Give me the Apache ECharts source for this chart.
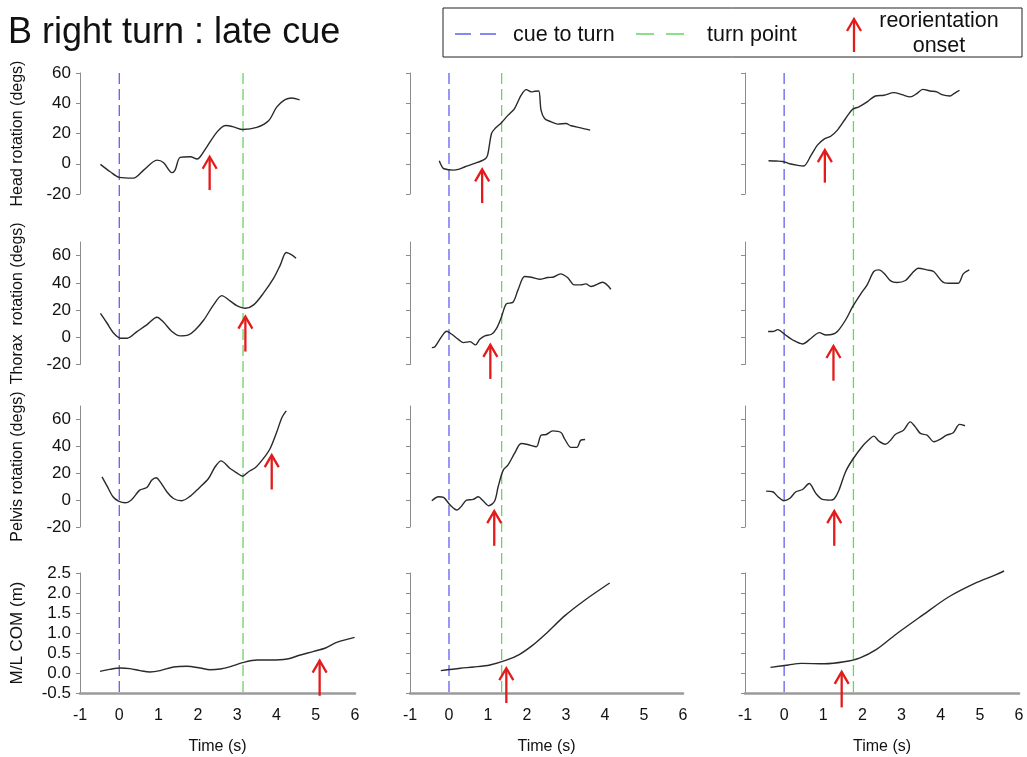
<!DOCTYPE html>
<html><head><meta charset="utf-8">
<script src="https://cdn.jsdelivr.net/npm/echarts@6/dist/echarts.min.js"></script>
<style>html,body{margin:0;padding:0;background:#fff}#c{width:1027px;height:757px}</style>
</head><body><div id="c"></div>
<script>
// ---------------- data ----------------
const titleText = 'B right turn : late cue';
const rowNames = ['Head rotation (degs)', 'Thorax  rotation (degs)', 'Pelvis rotation (degs)', 'M/L COM (m)'];
const xTickValues = [-1, 0, 1, 2, 3, 4, 5, 6];
const rotTicks = [-20, 0, 20, 40, 60];
const comTicks = [-0.5, 0, 0.5, 1, 1.5, 2, 2.5];
const cueTimes = [0, 0, 0];
const turnTimes = [3.15, 1.35, 1.77];

const head1_t = [-0.48,-0.23,0,0.36,0.62,0.96,1.13,1.34,1.42,1.55,1.81,1.98,2.06,2.23,2.49,2.70,2.91,3.14,3.50,3.80,4.01,4.22,4.39,4.59];
const head1_v = [-0.4,-5.3,-9,-9.5,-4.2,2.4,0.7,-5.9,-4.2,4.2,4.6,3.1,4.6,11.2,21.1,25.3,24.4,22.6,24,28.4,37.6,42.4,43.5,42.2];
const head2_t = [-0.25,-0.19,-0.13,0.11,0.24,0.41,0.66,0.92,0.99,1.09,1.18,1.34,1.51,1.68,1.85,1.98,2.11,2.2,2.30,2.36,2.45,2.62,2.79,3.00,3.13,3.38,3.62];
const head2_v = [2.0,-1.5,-3.3,-4.2,-3.7,-2.0,0.2,3.1,5.7,20,23.3,27,32,36.5,45.3,49,47.5,47.9,48.1,35.4,29.9,27.7,26.2,26.6,25.1,23.7,22.2];
const head3_t = [-0.40,-0.20,-0.03,0.14,0.35,0.50,0.69,0.85,1.02,1.19,1.36,1.57,1.75,1.91,2.12,2.33,2.55,2.80,3.01,3.22,3.39,3.54,3.73,3.90,4.03,4.24,4.34,4.48];
const head3_v = [2.0,1.8,1.5,0,-1.1,-1.5,5.7,12.3,16.3,18.2,22.2,29.9,36,37.6,40.9,44.8,45.3,47,45.7,44.2,46.4,49.2,48.1,47.5,45.7,44.8,46.4,48.6];

const thor1_t = [-0.48,-0.31,-0.14,0.03,0.2,0.45,0.70,0.96,1.13,1.34,1.55,1.76,1.93,2.15,2.40,2.61,2.82,2.99,3.21,3.42,3.67,3.93,4.10,4.25,4.39,4.50];
const thor1_v = [17.6,10.3,2.9,-0.7,-0.7,4.2,9.1,14.7,11,4.2,1,1.7,5.4,12.7,23.8,30.6,26.7,23.3,21.3,23.8,32.4,43.4,53.2,62.3,60.5,58.1];
const thor2_t = [-0.44,-0.36,-0.19,-0.06,0.07,0.24,0.37,0.54,0.68,0.79,0.92,1.09,1.22,1.34,1.47,1.64,1.77,1.94,2.11,2.32,2.53,2.66,2.86,3.04,3.21,3.38,3.51,3.64,3.94,4.15];
const thor2_v = [-7.6,-6.9,0.5,4.4,2.2,-1.5,-3.9,-3.2,-5.6,-1.5,1,2.2,6.6,14.5,24.5,25.7,34.8,44.6,44.1,42.6,43.9,44.1,46.6,43.9,38.5,38.5,39.2,37.3,40.4,35.3];
const thor3_t = [-0.41,-0.29,-0.16,0.01,0.22,0.47,0.69,0.90,1.07,1.24,1.36,1.57,1.75,1.95,2.12,2.29,2.42,2.55,2.72,2.88,3.10,3.27,3.43,3.65,3.82,4.07,4.28,4.45,4.58,4.73];
const thor3_v = [4.2,4.2,5.6,2.2,-2.0,-4.9,-0.7,3.4,1.7,2.2,4.2,12.7,22.5,31.6,38.5,48.3,49.5,47.1,41.4,40.2,41.7,47.1,50.7,49.5,48.3,40.4,39.7,39.7,46.8,49.5];

const pel1_t = [-0.44,-0.31,-0.16,-0.02,0.15,0.32,0.52,0.70,0.83,0.94,1.04,1.21,1.38,1.59,1.81,2.02,2.27,2.44,2.59,2.82,2.99,3.14,3.29,3.46,3.67,3.84,4.01,4.14,4.25];
const pel1_v = [17.3,10.4,2.5,-0.7,-2.0,0.5,7.4,9.4,14.9,16.6,13.6,6.2,1.2,-0.5,3.0,8.7,16.1,24.8,29.2,23.5,20.3,17.8,21.1,24.0,31.0,38.4,50.8,61.5,66.4];
const pel2_t = [-0.44,-0.27,-0.14,0.03,0.20,0.32,0.45,0.62,0.75,0.88,1.02,1.17,1.26,1.39,1.51,1.68,1.85,2.02,2.24,2.36,2.49,2.66,2.87,2.96,3.13,3.28,3.38,3.49];
const pel2_v = [-0.5,2.5,2.0,-3.7,-7.4,-4.5,0,0.5,2.5,-0.7,-4.2,-0.7,9.9,22.3,26.0,34.7,42.1,41.4,39.7,48.3,48.8,51.5,50.3,45.8,39.2,39.2,44.6,45.1];
const pel3_t = [-0.46,-0.29,-0.16,-0.01,0.14,0.30,0.47,0.64,0.81,0.98,1.19,1.28,1.40,1.57,1.75,2.00,2.17,2.29,2.42,2.59,2.72,2.84,3.05,3.22,3.35,3.48,3.65,3.83,3.98,4.15,4.32,4.48,4.62];
const pel3_v = [6.7,6.2,2.5,-0.5,1.2,6.2,7.9,12.4,5.0,0.5,0,1.0,7.4,21.1,30.2,40.1,45.1,47.6,43.9,41.6,44.6,48.8,52.0,58.2,54.5,49.6,48.3,43.4,45.1,48.3,50.1,56.3,55.3];

const com1_t = [-0.49,-0.24,0.02,0.27,0.53,0.78,1.04,1.38,1.72,2.06,2.31,2.57,2.83,3.14,3.51,3.85,4.27,4.61,4.95,5.25,5.55,5.99];
const com1_v = [0.04,0.09,0.125,0.11,0.06,0.025,0.06,0.15,0.17,0.125,0.08,0.10,0.16,0.26,0.325,0.325,0.35,0.45,0.54,0.625,0.77,0.89];
const com2_t = [-0.21,0.29,0.63,1.05,1.47,1.80,2.14,2.47,2.98,3.48,4.12];
const com2_v = [0.06,0.12,0.15,0.2,0.32,0.46,0.69,0.97,1.44,1.82,2.25];
const com3_t = [-0.35,0.11,0.44,1.03,1.53,1.94,2.36,2.86,3.53,4.20,4.87,5.37,5.62];
const com3_v = [0.14,0.2,0.24,0.23,0.28,0.38,0.59,0.97,1.44,1.9,2.24,2.44,2.55];

// reorientation onset arrows: time, head value, tail value (rows x columns)
const arrowTime = [[2.30,0.85,1.04],[3.21,1.06,1.26],[3.88,1.16,1.28],[5.10,1.47,1.47]];
const arrowHead = [[4.6,-3.7,9],[15.2,-5.6,-6.4],[33.5,-8.2,-8.2],[0.31,0.12,0.03]];
const arrowTail = [[-17.4,-26,-12.5],[-10.5,-30.6,-31.9],[7.9,-34,-34],[-0.57,-0.75,-0.86]];

// ---------------- layout / style ----------------
const FONT = "'Liberation Sans', Arial, Helvetica, sans-serif";
const BLUE = '#6161ee', GREEN = '#63d663', RED = '#e31b1b', CURVE = '#2a2a2a', AXIS = '#8c8c8c';
const colLeft = [80, 410, 745];
const colWidth = [275, 273, 274];
const rowTop = [73, 242, 406, 573];
const rowHeight = [121, 122.5, 121, 120];
const rowMin = [-20, -20, -20, -0.5];
const rowMax = [60, 70, 70, 2.5];
const rowInterval = [20, 20, 20, 0.5];
const rowTicks = [rotTicks, rotTicks, rotTicks, comTicks];

const curves = [
  [[head1_t, head1_v], [head2_t, head2_v], [head3_t, head3_v]],
  [[thor1_t, thor1_v], [thor2_t, thor2_v], [thor3_t, thor3_v]],
  [[pel1_t, pel1_v], [pel2_t, pel2_v], [pel3_t, pel3_v]],
  [[com1_t, com1_v], [com2_t, com2_v], [com3_t, com3_v]]
];

const grid = [], xAxis = [], yAxis = [], series = [];
for (let r = 0; r < 4; r++) {
  for (let c = 0; c < 3; c++) {
    const g = r * 3 + c;
    grid.push({ left: colLeft[c], top: rowTop[r], width: colWidth[c], height: rowHeight[r], containLabel: false });
    xAxis.push({
      gridIndex: g, type: 'value', min: -1, max: 6, interval: 1, show: r === 3,
      axisLine: { show: true, onZero: false, lineStyle: { color: '#9a9a9a', width: 2.5 } },
      axisTick: { show: false },
      axisLabel: { fontSize: 16, color: '#111', margin: 15, fontFamily: FONT, customValues: xTickValues },
      splitLine: { show: false },
      name: r === 3 ? 'Time (s)' : '', nameLocation: 'middle', nameGap: 46,
      nameTextStyle: { fontSize: 16, color: '#111', fontFamily: FONT }
    });
    yAxis.push({
      gridIndex: g, type: 'value', min: rowMin[r], max: rowMax[r], interval: rowInterval[r],
      axisLine: { show: true, onZero: false, lineStyle: { color: AXIS, width: 1 } },
      axisTick: { show: true, length: 4, customValues: rowTicks[r], lineStyle: { color: AXIS } },
      axisLabel: {
        show: c === 0, customValues: rowTicks[r], fontSize: 17, color: '#111', margin: 9, fontFamily: FONT,
        formatter: r === 3 ? (v => Number(v).toFixed(1)) : (v => String(v))
      },
      splitLine: { show: false },
      name: c === 0 ? rowNames[r] : '', nameLocation: 'middle', nameGap: 54, nameRotate: 90,
      nameTextStyle: { fontSize: r === 3 ? 17 : 16, color: '#111', fontFamily: FONT }
    });
    const [ts, vs] = curves[r][c];
    series.push({
      type: 'line', xAxisIndex: g, yAxisIndex: g, z: 3, silent: true,
      showSymbol: false, smooth: 0.3, clip: false,
      lineStyle: { color: CURVE, width: 1.4 },
      data: ts.map((t, i) => [t, vs[i]])
    });
    series.push({
      type: 'custom', xAxisIndex: g, yAxisIndex: g, z: 5, silent: true, clip: false,
      data: [[arrowTime[r][c], arrowHead[r][c], arrowTail[r][c]]],
      renderItem: (p, api) => {
        const h = api.coord([api.value(0), api.value(1)]);
        const tl = api.coord([api.value(0), api.value(2)]);
        return { type: 'group', children: [
          { type: 'line', shape: { x1: h[0], y1: h[1] + 1, x2: tl[0], y2: tl[1] }, style: { stroke: RED, lineWidth: 2.3 } },
          { type: 'polyline', shape: { points: [[h[0] - 7, h[1] + 12], [h[0], h[1]], [h[0] + 7, h[1] + 12]] }, style: { stroke: RED, lineWidth: 2.3, fill: null } }
        ] };
      }
    });
  }
}
// overlay grids carrying the full-height event lines
for (let c = 0; c < 3; c++) {
  const g = 12 + c;
  grid.push({ left: colLeft[c], top: rowTop[0], width: colWidth[c], height: rowTop[3] + rowHeight[3] - rowTop[0] });
  xAxis.push({ gridIndex: g, type: 'value', min: -1, max: 6, show: false });
  yAxis.push({ gridIndex: g, type: 'value', min: 0, max: 1, show: false });
  series.push({
    type: 'custom', xAxisIndex: g, yAxisIndex: g, z: 1, silent: true, clip: false,
    data: [[cueTimes[c], 0], [turnTimes[c], 1]],
    renderItem: (p, api) => {
      const x = api.coord([api.value(0), 0])[0];
      const cs = p.coordSys;
      return { type: 'line', shape: { x1: x, y1: cs.y, x2: x, y2: cs.y + cs.height },
        style: { stroke: api.value(1) === 0 ? BLUE : GREEN, lineWidth: 1.3, lineDash: [11, 5] } };
    }
  });
}

const graphic = [
  { type: 'text', left: 8, top: 15, style: { text: titleText, font: '36px ' + FONT, fill: '#111' } },
  { type: 'rect', shape: { x: 443, y: 8, width: 579, height: 49 }, style: { fill: '#fff', stroke: '#222', lineWidth: 1 } },
  { type: 'line', shape: { x1: 455, y1: 34, x2: 496, y2: 34 }, style: { stroke: BLUE, lineWidth: 1.3, lineDash: [16, 9] } },
  { type: 'text', style: { x: 513, y: 35, text: 'cue to turn', font: '21.5px ' + FONT, fill: '#111', verticalAlign: 'middle' } },
  { type: 'line', shape: { x1: 636, y1: 34, x2: 684, y2: 34 }, style: { stroke: GREEN, lineWidth: 1.3, lineDash: [18, 12] } },
  { type: 'text', style: { x: 707, y: 35, text: 'turn point', font: '21.5px ' + FONT, fill: '#111', verticalAlign: 'middle' } },
  { type: 'line', shape: { x1: 854, y1: 52, x2: 854, y2: 20 }, style: { stroke: RED, lineWidth: 2.3 } },
  { type: 'polyline', shape: { points: [[847, 31], [854, 19], [861, 31]] }, style: { stroke: RED, lineWidth: 2.3, fill: null } },
  { type: 'text', style: { x: 939, y: 21, text: 'reorientation', font: '21.5px ' + FONT, fill: '#111', align: 'center', verticalAlign: 'middle' } },
  { type: 'text', style: { x: 939, y: 46, text: 'onset', font: '21.5px ' + FONT, fill: '#111', align: 'center', verticalAlign: 'middle' } }
];

const chart = echarts.init(document.getElementById('c'), null, { renderer: 'canvas' });
chart.setOption({ animation: false, backgroundColor: '#fff', grid, xAxis, yAxis, series, graphic });
</script>
</body></html>
